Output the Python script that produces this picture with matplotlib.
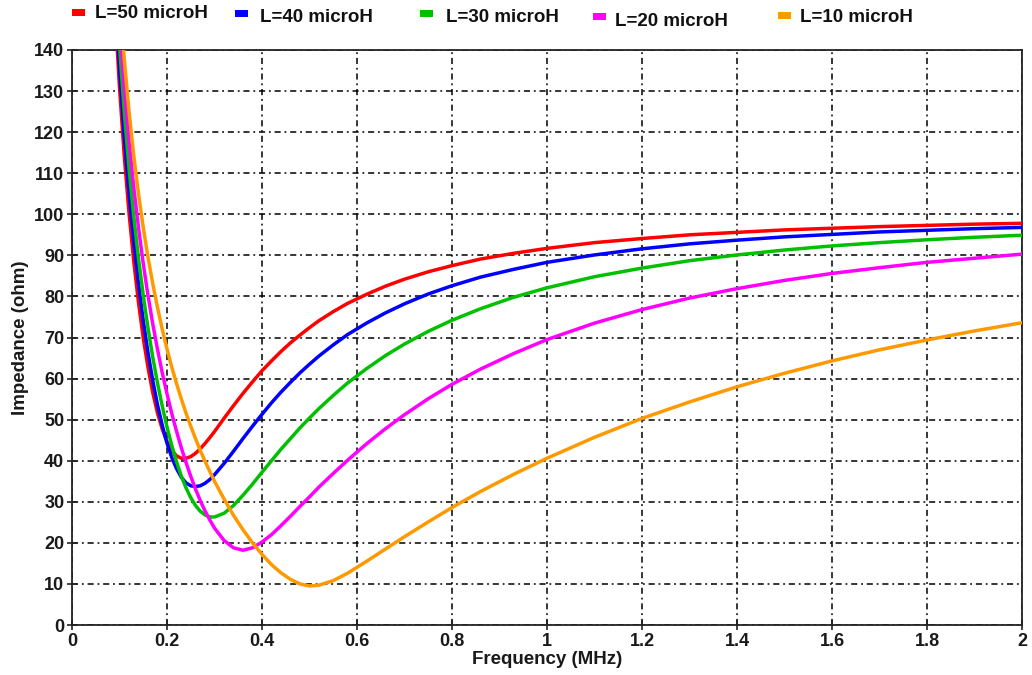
import matplotlib
matplotlib.use("Agg")
import matplotlib.pyplot as plt
from matplotlib.patches import Rectangle

# Frequency axis (MHz)
freq_mhz = [0.09, 0.10, 0.11, 0.12, 0.13, 0.14, 0.15, 0.16, 0.17, 0.18, 0.19, 0.20,
            0.21, 0.22, 0.23, 0.24, 0.25, 0.26, 0.27, 0.28, 0.29, 0.30, 0.32, 0.34,
            0.36, 0.38, 0.40, 0.42, 0.44, 0.46, 0.48, 0.50, 0.52, 0.55, 0.58, 0.62,
            0.66, 0.70, 0.75, 0.80, 0.86, 0.93, 1.00, 1.10, 1.20, 1.30, 1.40, 1.50,
            1.60, 1.70, 1.80, 1.90, 2.00]

# Impedance magnitude (ohm) for each inductance
z_50uh = [150.8, 130.9, 114.3, 100.4, 88.6, 78.5, 69.9, 62.7, 56.6, 51.6, 47.7, 44.6,
          42.5, 41.2, 40.6, 40.6, 41.0, 41.8, 42.9, 44.2, 45.6, 47.1, 50.3, 53.4,
          56.4, 59.2, 61.9, 64.3, 66.6, 68.7, 70.6, 72.4, 74.1, 76.3, 78.3, 80.5,
          82.5, 84.2, 86.0, 87.5, 89.1, 90.5, 91.7, 93.1, 94.1, 95.0, 95.6, 96.2,
          96.6, 97.0, 97.3, 97.6, 97.8]
z_40uh = [155.4, 135.6, 119.2, 105.3, 93.4, 83.1, 74.1, 66.3, 59.5, 53.6, 48.6, 44.3,
          40.8, 38.1, 36.0, 34.6, 33.9, 33.7, 33.9, 34.5, 35.4, 36.6, 39.3, 42.3,
          45.4, 48.4, 51.3, 54.1, 56.7, 59.1, 61.4, 63.5, 65.5, 68.2, 70.7, 73.5,
          76.0, 78.2, 80.6, 82.6, 84.7, 86.6, 88.3, 90.1, 91.6, 92.8, 93.7, 94.5,
          95.1, 95.7, 96.1, 96.5, 96.8]
z_30uh = [160.4, 141.0, 124.9, 111.2, 99.5, 89.2, 80.3, 72.3, 65.2, 58.9, 53.3, 48.2,
          43.7, 39.8, 36.3, 33.4, 31.0, 29.1, 27.7, 26.8, 26.3, 26.3, 27.2, 29.1,
          31.6, 34.3, 37.2, 40.0, 42.8, 45.4, 48.0, 50.4, 52.7, 55.9, 58.9, 62.4,
          65.6, 68.4, 71.5, 74.2, 77.0, 79.8, 82.1, 84.8, 86.9, 88.7, 90.1, 91.3,
          92.3, 93.1, 93.8, 94.4, 94.9]
z_20uh = [165.7, 146.8, 131.1, 117.9, 106.5, 96.7, 88.0, 80.2, 73.3, 67.1, 61.4, 56.3,
          51.5, 47.2, 43.2, 39.6, 36.2, 33.1, 30.3, 27.8, 25.6, 23.6, 20.6, 18.8,
          18.2, 18.8, 20.2, 22.0, 24.2, 26.5, 28.9, 31.2, 33.6, 36.9, 40.1, 44.1,
          47.8, 51.2, 55.1, 58.6, 62.3, 66.1, 69.5, 73.5, 76.8, 79.6, 81.9, 83.9,
          85.6, 87.0, 88.3, 89.3, 90.3]
z_10uh = [171.2, 152.9, 137.8, 125.1, 114.3, 105.0, 96.8, 89.5, 83.1, 77.3, 72.0, 67.2,
          62.8, 58.8, 55.1, 51.6, 48.4, 45.4, 42.5, 39.9, 37.4, 35.0, 30.7, 26.7,
          23.2, 20.0, 17.2, 14.7, 12.7, 11.1, 10.0, 9.5, 9.7, 10.8, 12.6, 15.5,
          18.5, 21.5, 25.1, 28.6, 32.5, 36.7, 40.6, 45.7, 50.3, 54.3, 58.0, 61.3,
          64.3, 67.0, 69.4, 71.6, 73.6]

series_labels = ["L=50 microH", "L=40 microH", "L=30 microH", "L=20 microH", "L=10 microH"]
series_colors = ["#ff0000", "#0000ff", "#00c000", "#ff00ff", "#ff9900"]
series_values = [z_50uh, z_40uh, z_30uh, z_20uh, z_10uh]

x_ticks = [0, 0.2, 0.4, 0.6, 0.8, 1, 1.2, 1.4, 1.6, 1.8, 2]
x_tick_labels = ["0", "0.2", "0.4", "0.6", "0.8", "1", "1.2", "1.4", "1.6", "1.8", "2"]
y_ticks = list(range(0, 141, 10))

plt.rcParams["font.family"] = ["Liberation Sans", "DejaVu Sans"]
plt.rcParams["font.weight"] = "bold"

W, H = 1032, 675
fig = plt.figure(figsize=(W / 100, H / 100), dpi=100)
ax = fig.add_axes([72 / W, 50 / H, 950 / W, 575 / H])

for vals, col, lab in zip(series_values, series_colors, series_labels):
    ax.plot(freq_mhz, vals, color=col, lw=2.5, label=lab, solid_capstyle="round", zorder=3)

ax.set_xlim(0, 2)
ax.set_ylim(0, 140)
ax.set_xticks(x_ticks)
ax.set_xticklabels(x_tick_labels)
ax.set_yticks(y_ticks)

ax.grid(True, color="black", lw=1.1, linestyle=(0, (4, 2.5, 1.2, 2.5)), zorder=1)
ax.set_axisbelow(True)

for sp in ax.spines.values():
    sp.set_linewidth(1.3)
    sp.set_color("#222222")

ax.tick_params(axis="both", direction="inout", length=7, width=1.2,
               labelsize=13, pad=2, colors="#222222")
for t in ax.get_xticklabels() + ax.get_yticklabels():
    t.set_fontweight("bold")
    t.set_color("#1a1a1a")

ax.set_xlabel("Frequency (MHz)", fontsize=13.5, fontweight="bold", labelpad=1, color="#1a1a1a")
ax.set_ylabel("Impedance (ohm)", fontsize=13.5, fontweight="bold", labelpad=4, color="#1a1a1a")

# Legend row along the top edge: colour swatch, then label
swatch_x = [72, 235, 420, 593, 778]
swatch_y = [12.5, 13, 13, 16, 15.5]
text_x = [95, 260, 446, 615, 800]
text_y = [13, 17, 17, 21, 18]
for sx, sy, tx, ty, col, lab in zip(swatch_x, swatch_y, text_x, text_y,
                                    series_colors, series_labels):
    fig.add_artist(Rectangle((sx / W, 1 - (sy + 3.5) / H), 13 / W, 7 / H,
                             transform=fig.transFigure, facecolor=col, edgecolor="none"))
    fig.text(tx / W, 1 - ty / H, lab, fontsize=13.5, fontweight="bold",
             va="center", ha="left", color="#111111")

fig.savefig("out.png", dpi=100)
